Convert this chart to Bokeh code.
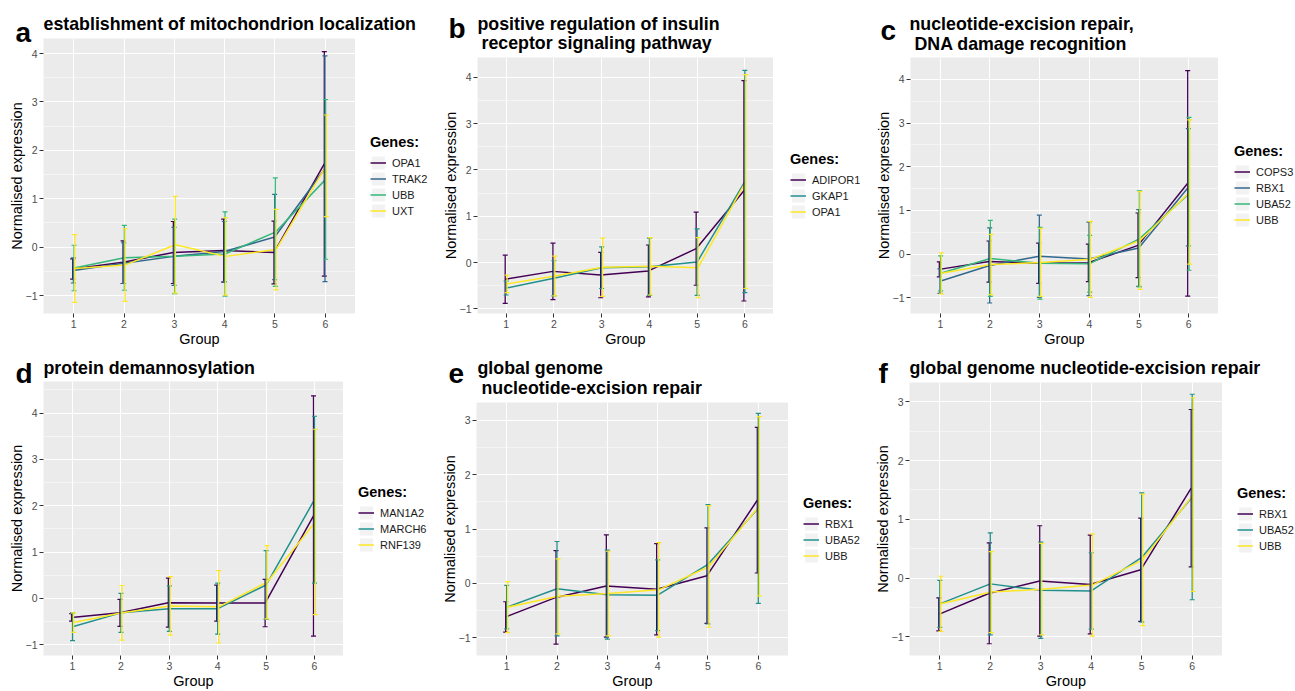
import numpy as np
from bokeh.plotting import figure
from bokeh.models import (Range1d, FixedTicker, Legend, LegendItem, Label,
                          Whisker, TeeHead, ColumnDataSource)
from bokeh.layouts import column, row
from bokeh.embed import file_html
from bokeh.resources import INLINE

FONT = "Liberation Sans"

# ---------------- data ----------------
groups = [1, 2, 3, 4, 5, 6]

# panel a
a_genes = ["OPA1", "TRAK2", "UBB", "UXT"]
a_OPA1_mean = [-0.45, -0.31, -0.11, -0.07, -0.11, 1.72]
a_OPA1_sd = [0.21, 0.44, 0.64, 0.65, 0.65, 2.32]
a_TRAK2_mean = [-0.48, -0.33, -0.19, -0.09, 0.21, 1.62]
a_TRAK2_sd = [0.26, 0.42, 0.60, 0.62, 0.88, 2.33]
a_UBB_mean = [-0.43, -0.22, -0.19, -0.14, 0.31, 1.40]
a_UBB_sd = [0.47, 0.67, 0.77, 0.87, 1.12, 1.65]
a_UXT_mean = [-0.44, -0.37, 0.05, -0.19, -0.05, 1.68]
a_UXT_sd = [0.70, 0.75, 1.00, 0.80, 0.83, 1.05]

# panel b
b_genes = ["ADIPOR1", "GKAP1", "OPA1"]
b_ADIPOR1_mean = [-0.36, -0.19, -0.27, -0.18, 0.30, 1.55]
b_ADIPOR1_sd = [0.52, 0.61, 0.49, 0.56, 0.79, 2.38]
b_GKAP1_mean = [-0.55, -0.34, -0.11, -0.09, 0.01, 1.75]
b_GKAP1_sd = [0.15, 0.38, 0.45, 0.62, 0.72, 2.40]
b_OPA1_mean = [-0.46, -0.29, -0.10, -0.08, -0.11, 1.75]
b_OPA1_sd = [0.19, 0.43, 0.63, 0.62, 0.65, 2.31]

# panel c
c_genes = ["COPS3", "RBX1", "UBA52", "UBB"]
c_COPS3_mean = [-0.35, -0.17, -0.21, -0.20, 0.20, 1.62]
c_COPS3_sd = [0.17, 0.47, 0.46, 0.43, 0.74, 2.58]
RBX1_mean = [-0.62, -0.26, -0.05, -0.11, 0.14, 1.53]
RBX1_sd = [0.28, 0.86, 0.94, 0.84, 0.88, 1.34]
UBA52_mean = [-0.44, -0.10, -0.21, -0.22, 0.35, 1.38]
UBA52_sd = [0.40, 0.87, 0.82, 0.65, 1.10, 1.75]
UBB_mean = [-0.44, -0.24, -0.19, -0.12, 0.31, 1.42]
UBB_sd = [0.47, 0.69, 0.78, 0.87, 1.12, 1.65]

# panel d
d_genes = ["MAN1A2", "MARCH6", "RNF139"]
d_MAN1A2_mean = [-0.41, -0.31, -0.09, -0.10, -0.10, 1.78]
d_MAN1A2_sd = [0.08, 0.29, 0.53, 0.39, 0.51, 2.59]
d_MARCH6_mean = [-0.61, -0.31, -0.22, -0.22, 0.29, 2.13]
d_MARCH6_sd = [0.30, 0.42, 0.49, 0.55, 0.74, 1.80]
d_RNF139_mean = [-0.52, -0.31, -0.16, -0.18, 0.35, 1.65]
d_RNF139_sd = [0.21, 0.59, 0.63, 0.78, 0.79, 2.00]

# panels e and f
ef_genes = ["RBX1", "UBA52", "UBB"]

y_major = [-1, 0, 1, 2, 3, 4]
y_minor = [-1.5, -0.5, 0.5, 1.5, 2.5, 3.5, 4.5]

V4 = ["#440154", "#31688E", "#35B779", "#FDE725"]
V3 = ["#440154", "#21908C", "#FDE725"]

EXT = 12  # title strip overhang into the plot's (blank) top-left corner


def blank_fig(w, h, mb=0, transparent=False, **kw):
    f = figure(width=w, height=h, x_range=Range1d(0, w), y_range=Range1d(0, h),
               output_backend="svg", toolbar_location=None,
               x_axis_location=None, y_axis_location=None,
               min_border_left=0, min_border_right=0, min_border_top=0,
               min_border_bottom=mb, background_fill_color="white",
               border_fill_color="white", **kw)
    f.outline_line_color = None
    f.grid.visible = False
    if transparent:
        f.background_fill_alpha = 0
        f.border_fill_alpha = 0
    return f


# ---------------- panel builder ----------------
def make_panel(cfg):
    genes = cfg["genes"]
    means = cfg["means"]
    sds = cfg["sds"]
    n = len(genes)
    colors = V4 if n == 4 else V3
    W, H, th, ml, mr, mb = cfg["w"], cfg["h"], cfg["th"], cfg["ml"], cfg["mr"], cfg["mb"]
    main_h = H - th

    # ---- title strip ----
    sh = th + EXT
    tf = blank_fig(W, sh, transparent=True, margin=(0, 0, -EXT, 0))
    for txt, x, base in cfg["title"]:
        tf.add_layout(Label(x=x, y=sh - base, text=txt,
                            text_font=FONT, text_font_size="17.8px",
                            text_font_style="bold", text_color="black",
                            text_align="left", text_baseline="alphabetic"))
    lt, lx, lb = cfg["letter"]
    tf.add_layout(Label(x=lx, y=sh - lb, text=lt,
                        text_font=FONT, text_font_size="28px",
                        text_font_style="bold", text_color="black",
                        text_align="left", text_baseline="alphabetic"))

    # ---- main plot ----
    p = figure(width=W - mr, height=main_h,
               x_range=Range1d(0.4, 6.6), y_range=Range1d(*cfg["yr"]),
               output_backend="svg", toolbar_location=None,
               min_border_left=ml, min_border_right=0,
               min_border_top=0, min_border_bottom=mb,
               background_fill_color="#EBEBEB", border_fill_color="white",
               x_axis_label="Group", y_axis_label="Normalised expression")
    p.border_fill_alpha = 0
    p.outline_line_color = None
    p.xaxis.ticker = FixedTicker(ticks=groups)
    p.yaxis.ticker = FixedTicker(ticks=y_major, minor_ticks=y_minor)
    p.xgrid.grid_line_color = "white"
    p.xgrid.grid_line_width = 1.1
    p.ygrid.grid_line_color = "white"
    p.ygrid.grid_line_width = 1.1
    p.ygrid.minor_grid_line_color = "white"
    p.ygrid.minor_grid_line_width = 0.5
    for ax in (p.xaxis[0], p.yaxis[0]):
        ax.axis_line_color = None
        ax.major_tick_line_color = "#333333"
        ax.major_tick_out = 4
        ax.major_tick_in = 0
        ax.minor_tick_out = 0
        ax.minor_tick_in = 0
        ax.major_label_text_font = FONT
        ax.major_label_text_font_size = "10.5px"
        ax.major_label_text_color = "#4D4D4D"
        ax.axis_label_text_font = FONT
        ax.axis_label_text_font_size = "14.5px"
        ax.axis_label_text_font_style = "normal"
        ax.axis_label_text_color = "black"
    p.xaxis.major_label_standoff = 2
    p.xaxis.axis_label_standoff = 0
    p.yaxis.major_label_standoff = 2
    p.yaxis.axis_label_standoff = -2

    offs = np.linspace(-0.02, 0.02, n)
    for i, g in enumerate(genes):
        x = np.array(groups, dtype=float) + offs[i]
        p.line(x, np.array(means[i]), line_color=colors[i], line_width=1.5)
    for i, g in enumerate(genes):
        x = np.array(groups, dtype=float) + offs[i]
        m = np.array(means[i])
        s = np.array(sds[i])
        src = ColumnDataSource(dict(x=x, upper=m + s, lower=m - s))
        wk = Whisker(base="x", upper="upper", lower="lower", source=src,
                     line_color=colors[i], line_width=1.3, level="glyph",
                     upper_head=TeeHead(size=5, line_color=colors[i], line_width=1.2),
                     lower_head=TeeHead(size=5, line_color=colors[i], line_width=1.2))
        p.add_layout(wk)

    # ---- legend strip (key glyphs carry no drawable data) ----
    lf = blank_fig(mr, main_h, mb=cfg["mb_leg"])
    nan = [np.nan]
    bg = lf.quad(left=nan, right=nan, top=nan, bottom=nan,
                 fill_color="#F2F2F2", line_color=None)
    items = []
    for i, g in enumerate(genes):
        r = lf.line(x=nan, y=nan, line_color=colors[i], line_width=1.5)
        items.append(LegendItem(label=g, renderers=[bg, r]))
    leg = Legend(items=items, location="center_left", title="Genes:",
                 title_text_font=FONT, title_text_font_size="14.5px",
                 title_text_font_style="bold", title_text_color="black",
                 title_standoff=5,
                 label_text_font=FONT, label_text_font_size="11px",
                 label_text_color="#1A1A1A", label_standoff=6,
                 glyph_width=16, glyph_height=16, label_height=16,
                 spacing=0, padding=0, margin=cfg["gap"],
                 background_fill_alpha=0, border_line_alpha=0)
    lf.add_layout(leg)

    return column(tf, row(p, lf))


H1, H2 = 349, 342
cfgs = [
    dict(genes=a_genes,
         means=[a_OPA1_mean, a_TRAK2_mean, a_UBB_mean, a_UXT_mean],
         sds=[a_OPA1_sd, a_TRAK2_sd, a_UBB_sd, a_UXT_sd],
         w=430, h=H1, th=38, ml=43, mr=75, mb=33, mb_leg=35, gap=15, yr=(-1.37, 4.31),
         title=[("establishment of mitochondrion localization", 43, 23)],
         letter=("a", 15, 32)),
    dict(genes=b_genes,
         means=[b_ADIPOR1_mean, b_GKAP1_mean, b_OPA1_mean],
         sds=[b_ADIPOR1_sd, b_GKAP1_sd, b_OPA1_sd],
         w=430, h=H1, th=57, ml=47, mr=87, mb=33, mb_leg=35, gap=17, yr=(-1.10, 4.43),
         title=[("positive regulation of insulin", 47, 23),
                ("receptor signaling pathway", 51, 42)],
         letter=("b", 18, 28)),
    dict(genes=c_genes,
         means=[c_COPS3_mean, RBX1_mean, UBA52_mean, UBB_mean],
         sds=[c_COPS3_sd, RBX1_sd, UBA52_sd, UBB_sd],
         w=435, h=H1, th=57, ml=50, mr=77, mb=33, mb_leg=35, gap=16, yr=(-1.36, 4.50),
         title=[("nucleotide-excision repair,", 49, 23),
                ("DNA damage recognition", 54, 43)],
         letter=("c", 20, 30)),
    dict(genes=d_genes,
         means=[d_MAN1A2_mean, d_MARCH6_mean, d_RNF139_mean],
         sds=[d_MAN1A2_sd, d_MARCH6_sd, d_RNF139_sd],
         w=430, h=H2, th=32, ml=43, mr=87, mb=31, mb_leg=35, gap=15, yr=(-1.23, 4.68),
         title=[("protein demannosylation", 43, 18)],
         letter=("d", 15, 24)),
    dict(genes=ef_genes,
         means=[RBX1_mean, UBA52_mean, UBB_mean],
         sds=[RBX1_sd, UBA52_sd, UBB_sd],
         w=430, h=H2, th=53, ml=46, mr=72, mb=31, mb_leg=35, gap=15, yr=(-1.33, 3.33),
         title=[("global genome", 47, 18),
                ("nucleotide-excision repair", 51, 38)],
         letter=("e", 18, 24)),
    dict(genes=ef_genes,
         means=[RBX1_mean, UBA52_mean, UBB_mean],
         sds=[RBX1_sd, UBA52_sd, UBB_sd],
         w=435, h=H2, th=33, ml=49, mr=73, mb=31, mb_leg=35, gap=15, yr=(-1.32, 3.33),
         title=[("global genome nucleotide-excision repair", 49, 18)],
         letter=("f", 18, 24)),
]

panels = [make_panel(c) for c in cfgs]
layout = column(row(*panels[:3]), row(*panels[3:]))

open("out.html", "w").write(file_html(layout, INLINE))
